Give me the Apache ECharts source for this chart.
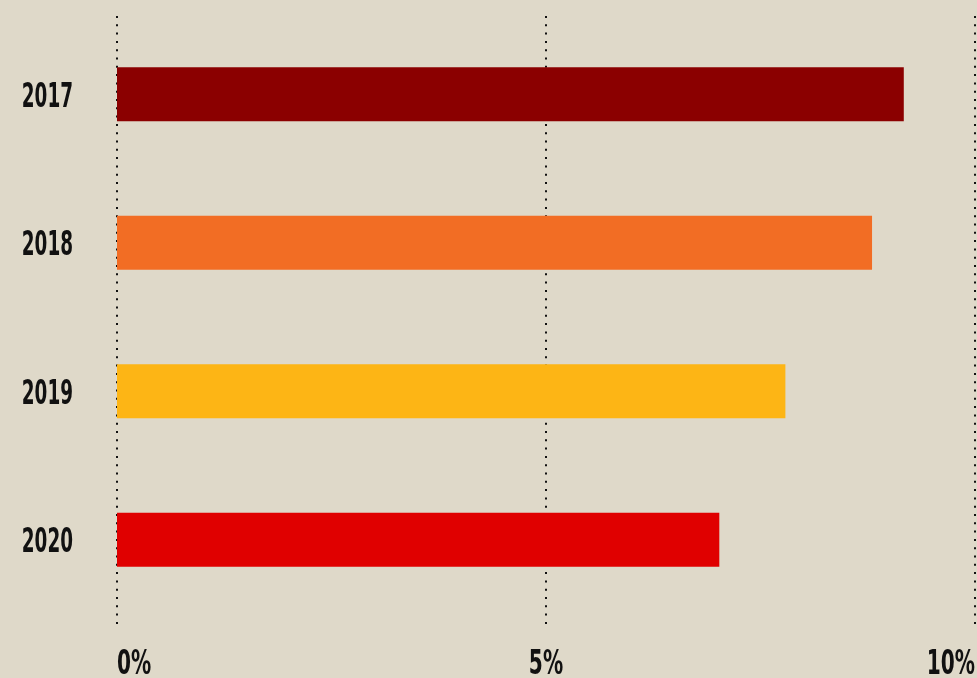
<!DOCTYPE html>
<html>
<head>
<meta charset="utf-8">
<script src="https://cdn.jsdelivr.net/npm/echarts@6/dist/echarts.min.js"></script>
<style>
html,body{margin:0;padding:0;background:#dfd9c9;}
#c{width:977px;height:678px;}
</style>
</head>
<body>
<div id="c"></div>
<script>
const years = ['2017', '2018', '2019', '2020'];
const values = [9.17, 8.80, 7.79, 7.02];
const barColors = ['#8b0000', '#f26d24', '#fdb515', '#e00000'];
const tickValues = [0, 5, 10];
const tickLabels = ['0%', '5%', '10%'];

const FONT = 'bold 33px "DejaVu Sans Condensed", "DejaVu Sans", sans-serif';
const chart = echarts.init(document.getElementById('c'));
chart.setOption({
  backgroundColor: '#dfd9c9',
  animation: false,
  grid: [
    {left: 117, right: 2, top: 20, bottom: 64},
    {left: 117, right: 2, top: 16, bottom: 50}
  ],
  xAxis: [
    {gridIndex: 0, type: 'value', min: 0, max: 10, interval: 5, show: false},
    {gridIndex: 1, type: 'value', min: 0, max: 10, interval: 5,
     axisLine: {show: false}, axisTick: {show: false}, axisLabel: {show: false},
     splitLine: {show: true, lineStyle: {color: '#111', width: 2, type: [2, 6.3]}}}
  ],
  yAxis: [
    {gridIndex: 0, type: 'category', inverse: true, data: years,
     axisLine: {show: false}, axisTick: {show: false}, axisLabel: {show: false}},
    {gridIndex: 1, type: 'value', show: false}
  ],
  series: [{
    type: 'bar', xAxisIndex: 0, yAxisIndex: 0, barWidth: 54, z: 3,
    data: values.map((v, i) => ({value: v, itemStyle: {color: barColors[i]}}))
  }]
});

const graphics = [];
years.forEach(y => {
  const py = chart.convertToPixel({yAxisIndex: 0}, y);
  const px = chart.convertToPixel({xAxisIndex: 0}, 0);
  graphics.push({type: 'text', x: px - 44, y: py + 4, scaleX: 0.62,
    style: {text: y, font: FONT, fill: '#111', textAlign: 'right', textVerticalAlign: 'middle'}});
});
tickValues.forEach((v, i) => {
  const px = chart.convertToPixel({xAxisIndex: 1}, v);
  const align = i === 0 ? 'left' : (i === tickValues.length - 1 ? 'right' : 'center');
  graphics.push({type: 'text', x: px, y: 665, scaleX: 0.68,
    style: {text: tickLabels[i], font: FONT, fill: '#111', textAlign: align, textVerticalAlign: 'middle'}});
});
chart.setOption({graphic: graphics});
</script>
</body>
</html>
